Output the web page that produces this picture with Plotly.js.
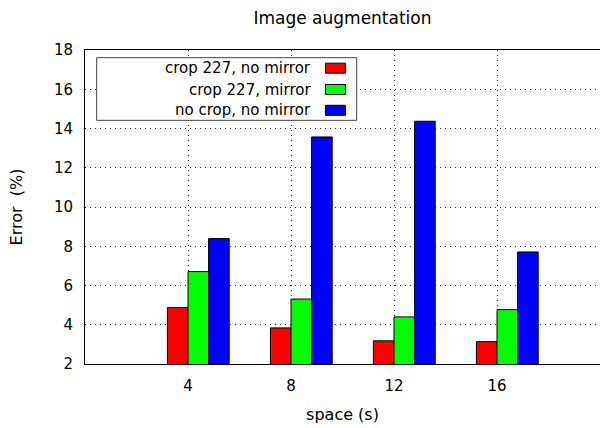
<!DOCTYPE html>
<html>
<head>
<meta charset="utf-8">
<script src="https://cdn.plot.ly/plotly-3.0.1.min.js"></script>
<style>html,body{margin:0;padding:0;background:#fff;}#chart{width:600px;height:428px;}</style>
</head>
<body>
<div id="chart"></div>
<script>
const categories = ['4', '8', '12', '16'];
const seriesNames = ['crop 227, no mirror', 'crop 227, mirror', 'no crop, no mirror'];
const cropNoMirror = [4.88, 3.84, 3.18, 3.14];
const cropMirror = [6.71, 5.31, 4.40, 4.77];
const noCropNoMirror = [8.39, 13.57, 14.37, 7.71];
const yTicks = [2, 4, 6, 8, 10, 12, 14, 16, 18];

const seriesValues = [cropNoMirror, cropMirror, noCropNoMirror];
const colors = ['#ff0000', '#00ff00', '#0000ff'];
const offsets = [-0.2, 0, 0.2];
const xIdx = categories.map((c, i) => i);

const traces = seriesValues.map((vals, k) => ({
  type: 'bar',
  name: seriesNames[k],
  x: xIdx,
  y: vals,
  width: 0.2,
  offset: offsets[k],
  marker: {color: colors[k], line: {color: '#000', width: 1}},
  showlegend: false,
  hoverinfo: 'y'
}));

const font = {family: 'DejaVu Sans, sans-serif', size: 15, color: '#000'};
const titleFont = {family: 'DejaVu Sans, sans-serif', size: 16, color: '#000'};

// manual legend (text right, swatch on the right) in gnuplot style
const shapes = [{
  type: 'rect', xref: 'paper', yref: 'paper', layer: 'above',
  x0: 0.0227, x1: 0.5276, y0: 0.776, y1: 0.9755,
  fillcolor: '#fff', line: {color: '#444', width: 1}
}];
const annotations = [];
const rowY = [68.2, 89.5, 110.3];
seriesNames.forEach((n, k) => {
  const yc = (364 - rowY[k]) / 314;
  const h = 5 / 314;
  shapes.push({
    type: 'rect', xref: 'paper', yref: 'paper', layer: 'above',
    x0: 0.4669, x1: 0.5057, y0: yc - h, y1: yc + h,
    fillcolor: colors[k], line: {color: '#000', width: 1}
  });
  annotations.push({
    xref: 'paper', yref: 'paper', x: 0.4427, y: yc,
    xanchor: 'right', yanchor: 'middle', showarrow: false,
    text: n, font: font
  });
});

const layout = {
  width: 600, height: 428,
  margin: {l: 85, r: 0, t: 50, b: 64},
  paper_bgcolor: '#fff', plot_bgcolor: '#fff',
  barmode: 'overlay',
  font: font,
  title: {text: 'Image augmentation', font: {family: font.family, size: 17, color: '#000'},
          x: 0.5, xref: 'paper', xanchor: 'center', y: 1 - 18 / 428, yanchor: 'middle'},
  xaxis: {
    range: [-1, 4], tickvals: xIdx, ticktext: categories,
    showgrid: true, gridcolor: '#222', griddash: '1px,4px', gridwidth: 1,
    showline: true, linecolor: '#000', linewidth: 1, mirror: true,
    zeroline: false, ticks: '', ticklabelstandoff: 8,
    title: {text: 'space (s)', font: titleFont, standoff: 14},
    tickfont: font
  },
  yaxis: {
    range: [2, 18], tickvals: yTicks,
    showgrid: true, gridcolor: '#222', griddash: '1px,4px', gridwidth: 1,
    showline: true, linecolor: '#000', linewidth: 1, mirror: false,
    zeroline: false, ticks: '', ticklabelstandoff: 8,
    title: {text: 'Error  (%)', font: titleFont, standoff: 27},
    tickfont: font
  },
  shapes: shapes,
  annotations: annotations
};

Plotly.newPlot('chart', traces, layout, {staticPlot: true, displayModeBar: false});
</script>
</body>
</html>
